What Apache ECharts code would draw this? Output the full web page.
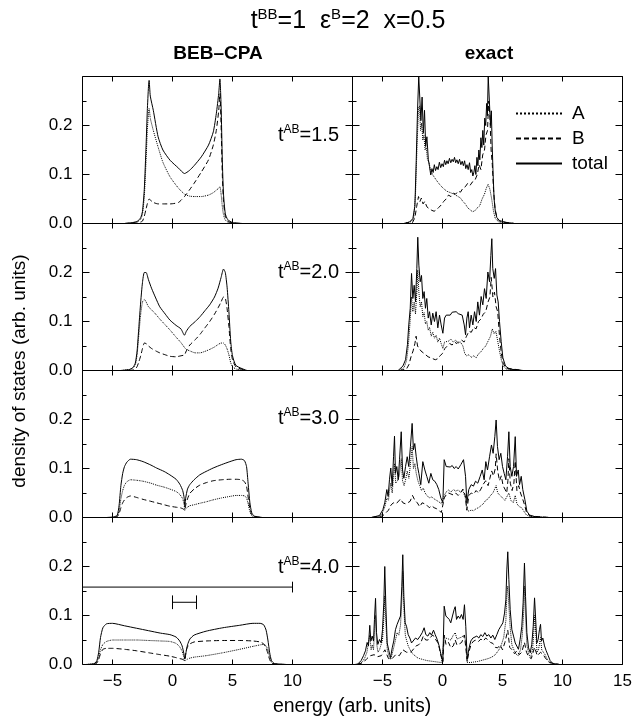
<!DOCTYPE html>
<html><head><meta charset="utf-8">
<script src="https://cdn.jsdelivr.net/npm/echarts@6/dist/echarts.min.js"></script>
<style>html,body{margin:0;padding:0;background:#fff}#c{width:636px;height:719px}</style>
</head><body><div id="c"></div>
<script>
// ---------- axis data ----------
const xMin = -7.5, xMax = 15;
const xTicks = [-5, 0, 5, 10, 15];
const xLabelsLeft = [-5, 0, 5, 10];
const xLabelsRight = [-5, 0, 5, 10, 15];
const yMax = 0.3;
const tABLabels = ['1.5', '2.0', '3.0', '4.0'];
const seriesNames = ['A', 'B', 'total'];

// ---------- BEB-CPA panels (energy grid + A, B, total) ----------
const cpa15E = [-4.0,-3.3,-2.9,-2.65,-2.5,-2.35,-2.2,-2.1,-2.0,-1.95,-1.85,-1.6,-1.2,-0.8,-0.2,0.5,1.0,1.4,1.8,2.4,3.0,3.4,3.65,3.85,3.95,4.05,4.15,4.25,4.4,4.6,5.0,5.8];
const cpa15T = [0,0.002,0.005,0.012,0.025,0.07,0.16,0.23,0.28,0.292,0.26,0.231,0.177,0.150,0.129,0.113,0.102,0.108,0.118,0.136,0.16,0.187,0.224,0.265,0.295,0.24,0.13,0.06,0.02,0.008,0.002,0];
const cpa15A = [0,0.001,0.004,0.009,0.02,0.055,0.13,0.19,0.225,0.235,0.215,0.19,0.156,0.125,0.095,0.072,0.06,0.056,0.055,0.055,0.058,0.063,0.068,0.072,0.075,0.06,0.035,0.018,0.007,0.003,0.001,0];
const cpa15B = [0,0.001,0.001,0.003,0.005,0.015,0.03,0.04,0.048,0.05,0.048,0.043,0.04,0.04,0.04,0.043,0.055,0.068,0.082,0.105,0.13,0.16,0.19,0.23,0.265,0.2,0.1,0.045,0.015,0.005,0.001,0];

const cpa20E = [-4.3,-3.6,-3.3,-3.1,-2.95,-2.8,-2.65,-2.5,-2.35,-2.2,-2.0,-1.75,-1.4,-1.06,-0.6,-0.22,0.3,0.7,1.0,1.15,1.44,1.9,2.3,2.7,3.1,3.5,3.8,4.05,4.25,4.4,4.55,4.7,4.85,5.0,5.3,6.2];
const cpa20T = [0,0.002,0.006,0.015,0.04,0.09,0.14,0.18,0.2,0.2,0.185,0.168,0.148,0.13,0.115,0.103,0.092,0.085,0.072,0.08,0.09,0.1,0.11,0.122,0.134,0.15,0.168,0.19,0.207,0.2,0.17,0.12,0.06,0.03,0.01,0];
const cpa20A = [0,0.002,0.005,0.012,0.032,0.075,0.115,0.14,0.145,0.14,0.13,0.124,0.115,0.105,0.093,0.083,0.068,0.057,0.047,0.043,0.04,0.036,0.036,0.039,0.043,0.048,0.053,0.056,0.056,0.052,0.044,0.032,0.016,0.008,0.003,0];
const cpa20B = [0,0,0.001,0.003,0.008,0.018,0.03,0.045,0.056,0.055,0.05,0.045,0.04,0.036,0.032,0.029,0.028,0.03,0.032,0.04,0.052,0.063,0.074,0.087,0.1,0.115,0.128,0.14,0.15,0.148,0.126,0.09,0.045,0.022,0.007,0];

const cpa30E = [-5.5,-4.9,-4.6,-4.45,-4.3,-4.15,-4.0,-3.8,-3.5,-3.0,-2.45,-1.8,-1.33,-0.7,-0.22,0.3,0.61,0.85,0.97,1.03,1.1,1.25,1.44,1.8,2.27,2.8,3.39,4.1,4.78,5.3,5.75,6.0,6.17,6.3,6.45,6.6,6.8,7.5];
const cpa30T = [0,0.001,0.005,0.025,0.065,0.09,0.104,0.113,0.119,0.118,0.114,0.107,0.101,0.094,0.087,0.078,0.068,0.055,0.04,0.022,0.04,0.058,0.067,0.077,0.087,0.094,0.101,0.108,0.114,0.118,0.119,0.116,0.104,0.07,0.03,0.01,0.003,0];
const cpa30A = [0,0.001,0.003,0.014,0.038,0.055,0.066,0.073,0.077,0.076,0.074,0.07,0.066,0.062,0.058,0.053,0.047,0.038,0.026,0.016,0.018,0.021,0.024,0.026,0.029,0.032,0.036,0.04,0.043,0.045,0.045,0.044,0.04,0.028,0.012,0.004,0.001,0];
const cpa30B = [0,0,0.002,0.008,0.02,0.03,0.036,0.041,0.044,0.041,0.037,0.033,0.03,0.026,0.023,0.021,0.02,0.018,0.016,0.014,0.025,0.038,0.049,0.058,0.066,0.071,0.075,0.077,0.078,0.078,0.077,0.073,0.064,0.042,0.018,0.006,0.002,0];

const cpa40E = [-7.2,-6.7,-6.45,-6.3,-6.15,-6.0,-5.8,-5.5,-5.0,-4.0,-3.0,-2.0,-1.0,-0.22,0.3,0.6,0.8,0.95,1.03,1.12,1.25,1.45,1.8,2.8,4.2,5.6,6.7,7.3,7.6,7.8,7.95,8.1,8.25,8.5,9.5];
const cpa40T = [0,0.001,0.003,0.008,0.025,0.055,0.075,0.083,0.084,0.079,0.074,0.069,0.064,0.061,0.056,0.048,0.038,0.022,0.011,0.024,0.04,0.052,0.06,0.068,0.075,0.08,0.084,0.084,0.081,0.07,0.05,0.024,0.008,0.002,0];
const cpa40A = [0,0.001,0.002,0.005,0.015,0.03,0.041,0.047,0.05,0.05,0.05,0.049,0.048,0.047,0.043,0.036,0.027,0.015,0.007,0.009,0.011,0.013,0.015,0.018,0.024,0.031,0.037,0.04,0.041,0.038,0.03,0.015,0.005,0.001,0];
const cpa40B = [0,0,0.001,0.003,0.01,0.022,0.031,0.033,0.033,0.031,0.028,0.024,0.02,0.017,0.014,0.012,0.011,0.009,0.008,0.026,0.036,0.042,0.046,0.048,0.049,0.049,0.048,0.046,0.042,0.034,0.022,0.01,0.003,0.001,0];

// reference bars drawn in the t^AB=4.0 BEB-CPA panel (energy, dos)
const longBarE = [-7.5, 10];
const longBarY = 0.158;
const longBarTickH = 0.011;
const scaleBarE = [0, 2];
const scaleBarY = 0.127;
const scaleBarTickH = 0.014;

// ---------- exact panels: [energy, dos] ----------
const ex15T = [[-3.2,0],[-2.75,0.003],[-2.47,0.01],[-2.3,0.035],[-2.19,0.129],[-2.08,0.231],[-1.98,0.3],[-1.88,0.3],[-1.8,0.21],[-1.7,0.258],[-1.6,0.184],[-1.5,0.231],[-1.4,0.157],[-1.3,0.177],[-1.18,0.13],[-1.08,0.116],[-0.98,0.099],[-0.88,0.112],[-0.78,0.104],[-0.68,0.12],[-0.58,0.108],[-0.47,0.116],[-0.37,0.11],[-0.26,0.125],[-0.15,0.114],[-0.04,0.122],[0.07,0.116],[0.17,0.129],[0.27,0.12],[0.37,0.128],[0.47,0.122],[0.58,0.133],[0.69,0.124],[0.8,0.131],[0.9,0.126],[1.0,0.135],[1.1,0.124],[1.2,0.13],[1.31,0.122],[1.42,0.131],[1.53,0.12],[1.64,0.127],[1.74,0.118],[1.84,0.128],[1.94,0.112],[2.04,0.12],[2.14,0.11],[2.25,0.124],[2.35,0.104],[2.44,0.11],[2.53,0.097],[2.62,0.105],[2.7,0.118],[2.78,0.1],[2.87,0.135],[2.95,0.118],[3.03,0.15],[3.11,0.13],[3.2,0.175],[3.28,0.155],[3.36,0.19],[3.44,0.16],[3.52,0.215],[3.6,0.2],[3.68,0.245],[3.74,0.22],[3.81,0.3],[3.92,0.3],[4.0,0.2],[4.07,0.23],[4.14,0.16],[4.22,0.1],[4.3,0.05],[4.4,0.025],[4.53,0.012],[4.75,0.006],[5.3,0.002],[6.0,0]];
const ex15A = [[-3.2,0],[-2.6,0.004],[-2.4,0.012],[-2.25,0.06],[-2.12,0.16],[-2.0,0.235],[-1.92,0.24],[-1.83,0.19],[-1.74,0.205],[-1.64,0.17],[-1.55,0.18],[-1.45,0.15],[-1.35,0.155],[-1.25,0.13],[-1.12,0.125],[-1.0,0.108],[-0.9,0.112],[-0.78,0.098],[-0.65,0.1],[-0.5,0.088],[-0.38,0.09],[-0.25,0.08],[-0.1,0.083],[0.05,0.072],[0.2,0.075],[0.35,0.066],[0.5,0.07],[0.65,0.063],[0.8,0.066],[0.95,0.06],[1.1,0.063],[1.3,0.055],[1.5,0.052],[1.7,0.045],[1.9,0.04],[2.1,0.032],[2.3,0.028],[2.5,0.024],[2.7,0.026],[2.9,0.032],[3.1,0.036],[3.3,0.05],[3.5,0.06],[3.65,0.072],[3.8,0.08],[3.95,0.07],[4.1,0.05],[4.25,0.025],[4.4,0.01],[4.7,0.003],[6.0,0]];
const ex15B = [[-3.2,0],[-2.5,0.002],[-2.3,0.012],[-2.15,0.035],[-2.0,0.055],[-1.88,0.045],[-1.76,0.052],[-1.62,0.04],[-1.48,0.045],[-1.3,0.034],[-1.1,0.03],[-0.9,0.027],[-0.7,0.025],[-0.5,0.028],[-0.3,0.033],[-0.1,0.038],[0.1,0.045],[0.3,0.05],[0.5,0.058],[0.7,0.055],[0.9,0.062],[1.1,0.06],[1.3,0.066],[1.5,0.064],[1.7,0.072],[1.9,0.075],[2.1,0.082],[2.3,0.078],[2.5,0.085],[2.7,0.088],[2.9,0.1],[3.05,0.12],[3.2,0.11],[3.35,0.14],[3.5,0.15],[3.62,0.18],[3.75,0.19],[3.85,0.25],[3.95,0.22],[4.05,0.15],[4.15,0.12],[4.25,0.07],[4.38,0.03],[4.55,0.01],[4.8,0.004],[6.0,0]];

const ex20T = [[-3.7,0],[-3.58,0.002],[-3.3,0.009],[-3.08,0.022],[-2.92,0.053],[-2.81,0.093],[-2.69,0.127],[-2.58,0.198],[-2.47,0.147],[-2.36,0.174],[-2.25,0.14],[-2.14,0.208],[-2.06,0.272],[-1.97,0.215],[-1.86,0.181],[-1.75,0.194],[-1.64,0.147],[-1.53,0.161],[-1.42,0.127],[-1.31,0.147],[-1.19,0.107],[-1.08,0.12],[-0.94,0.093],[-0.81,0.117],[-0.67,0.1],[-0.53,0.12],[-0.39,0.087],[-0.25,0.113],[-0.11,0.093],[0.03,0.076],[0.17,0.107],[0.31,0.113],[0.47,0.117],[0.64,0.113],[0.81,0.119],[0.97,0.115],[1.14,0.12],[1.31,0.116],[1.47,0.119],[1.64,0.113],[1.81,0.093],[1.92,0.073],[2.03,0.107],[2.14,0.12],[2.25,0.087],[2.39,0.113],[2.53,0.093],[2.67,0.12],[2.81,0.1],[2.94,0.14],[3.08,0.113],[3.22,0.151],[3.36,0.134],[3.5,0.167],[3.64,0.147],[3.78,0.201],[3.92,0.181],[4.03,0.235],[4.11,0.269],[4.19,0.208],[4.31,0.188],[4.42,0.208],[4.53,0.154],[4.64,0.14],[4.75,0.1],[4.89,0.059],[5.03,0.026],[5.25,0.009],[5.58,0.003],[6.7,0]];
const ex20A = [[-3.6,0],[-3.2,0.006],[-3.0,0.02],[-2.85,0.05],[-2.7,0.1],[-2.58,0.15],[-2.47,0.12],[-2.36,0.14],[-2.25,0.115],[-2.14,0.16],[-2.06,0.205],[-1.97,0.16],[-1.86,0.13],[-1.75,0.14],[-1.64,0.11],[-1.53,0.118],[-1.42,0.095],[-1.31,0.1],[-1.19,0.082],[-1.08,0.088],[-0.94,0.07],[-0.81,0.078],[-0.67,0.066],[-0.53,0.072],[-0.39,0.058],[-0.25,0.066],[-0.11,0.055],[0.03,0.045],[0.17,0.058],[0.31,0.062],[0.5,0.06],[0.7,0.064],[0.9,0.058],[1.1,0.062],[1.3,0.056],[1.5,0.058],[1.7,0.05],[1.85,0.035],[2.0,0.03],[2.2,0.032],[2.4,0.027],[2.6,0.03],[2.8,0.026],[3.0,0.034],[3.2,0.038],[3.4,0.045],[3.6,0.05],[3.8,0.06],[4.0,0.07],[4.15,0.085],[4.3,0.075],[4.45,0.08],[4.6,0.06],[4.75,0.04],[4.9,0.022],[5.05,0.01],[5.3,0.003],[6.7,0]];
const ex20B = [[-3.6,0],[-3.0,0.003],[-2.8,0.012],[-2.6,0.03],[-2.45,0.04],[-2.3,0.055],[-2.2,0.07],[-2.08,0.05],[-1.95,0.045],[-1.8,0.04],[-1.6,0.036],[-1.4,0.032],[-1.2,0.028],[-1.0,0.026],[-0.8,0.024],[-0.6,0.022],[-0.4,0.024],[-0.2,0.03],[0.0,0.035],[0.2,0.045],[0.4,0.05],[0.6,0.055],[0.8,0.052],[1.0,0.058],[1.2,0.055],[1.4,0.06],[1.6,0.062],[1.8,0.058],[2.0,0.07],[2.2,0.08],[2.4,0.078],[2.6,0.088],[2.8,0.085],[3.0,0.1],[3.2,0.105],[3.4,0.115],[3.6,0.12],[3.8,0.14],[3.95,0.15],[4.06,0.19],[4.2,0.15],[4.33,0.16],[4.47,0.13],[4.6,0.12],[4.75,0.07],[4.9,0.035],[5.05,0.015],[5.3,0.005],[6.7,0]];

const ex30T = [[-5.94,0],[-5.25,0.004],[-4.97,0.016],[-4.81,0.03],[-4.64,0.057],[-4.53,0.043],[-4.42,0.077],[-4.31,0.101],[-4.19,0.064],[-4.08,0.124],[-4.0,0.166],[-3.92,0.09],[-3.81,0.104],[-3.69,0.077],[-3.58,0.118],[-3.44,0.175],[-3.33,0.097],[-3.22,0.08],[-3.08,0.104],[-2.94,0.124],[-2.81,0.104],[-2.67,0.145],[-2.53,0.192],[-2.42,0.138],[-2.31,0.151],[-2.19,0.124],[-2.08,0.104],[-1.97,0.09],[-1.81,0.067],[-1.64,0.114],[-1.47,0.097],[-1.31,0.084],[-1.14,0.07],[-0.97,0.09],[-0.81,0.077],[-0.64,0.074],[-0.47,0.067],[-0.31,0.057],[-0.14,0.04],[0.03,0.03],[0.14,0.118],[0.31,0.104],[0.47,0.108],[0.64,0.103],[0.81,0.106],[0.97,0.1],[1.14,0.104],[1.31,0.099],[1.53,0.108],[1.75,0.118],[1.92,0.084],[2.03,0.03],[2.19,0.057],[2.39,0.067],[2.58,0.064],[2.75,0.074],[2.94,0.07],[3.14,0.084],[3.31,0.097],[3.47,0.077],[3.61,0.114],[3.75,0.097],[3.92,0.124],[4.08,0.148],[4.22,0.131],[4.36,0.165],[4.47,0.199],[4.58,0.145],[4.72,0.118],[4.86,0.131],[5.0,0.104],[5.14,0.09],[5.28,0.077],[5.42,0.124],[5.53,0.175],[5.64,0.104],[5.78,0.084],[5.92,0.104],[6.06,0.165],[6.17,0.084],[6.31,0.097],[6.42,0.067],[6.56,0.084],[6.69,0.057],[6.86,0.037],[7.03,0.013],[7.25,0.005],[7.81,0.001],[8.9,0]];
const ex30A = [[-5.9,0],[-5.2,0.003],[-4.97,0.012],[-4.8,0.022],[-4.64,0.04],[-4.5,0.035],[-4.42,0.055],[-4.31,0.07],[-4.19,0.05],[-4.08,0.085],[-4.0,0.11],[-3.9,0.07],[-3.75,0.075],[-3.6,0.085],[-3.44,0.12],[-3.33,0.075],[-3.2,0.065],[-3.05,0.08],[-2.94,0.095],[-2.8,0.08],[-2.67,0.11],[-2.53,0.145],[-2.42,0.1],[-2.3,0.11],[-2.19,0.09],[-2.05,0.075],[-1.9,0.065],[-1.75,0.055],[-1.6,0.06],[-1.45,0.05],[-1.3,0.045],[-1.1,0.04],[-0.9,0.042],[-0.7,0.038],[-0.5,0.035],[-0.3,0.032],[-0.1,0.028],[0.05,0.025],[0.15,0.045],[0.3,0.052],[0.5,0.056],[0.7,0.052],[0.9,0.057],[1.1,0.054],[1.3,0.056],[1.5,0.052],[1.7,0.055],[1.9,0.04],[2.03,0.015],[2.2,0.013],[2.4,0.015],[2.6,0.014],[2.8,0.018],[3.0,0.02],[3.2,0.024],[3.4,0.028],[3.6,0.035],[3.8,0.038],[4.0,0.045],[4.2,0.05],[4.47,0.065],[4.6,0.05],[4.8,0.045],[5.0,0.04],[5.2,0.035],[5.53,0.05],[5.7,0.035],[5.9,0.03],[6.06,0.045],[6.2,0.028],[6.4,0.022],[6.6,0.02],[6.8,0.012],[7.0,0.005],[7.3,0.002],[8.9,0]];
const ex30B = [[-5.9,0],[-5.0,0.003],[-4.7,0.01],[-4.5,0.015],[-4.3,0.025],[-4.1,0.03],[-3.9,0.028],[-3.7,0.032],[-3.5,0.038],[-3.3,0.03],[-3.1,0.028],[-2.9,0.03],[-2.7,0.033],[-2.5,0.045],[-2.3,0.035],[-2.1,0.03],[-1.9,0.022],[-1.7,0.03],[-1.5,0.028],[-1.3,0.025],[-1.1,0.02],[-0.9,0.024],[-0.7,0.02],[-0.5,0.018],[-0.3,0.015],[-0.1,0.01],[0.05,0.008],[0.15,0.04],[0.3,0.046],[0.5,0.05],[0.7,0.048],[0.9,0.046],[1.1,0.05],[1.3,0.045],[1.5,0.05],[1.7,0.058],[1.9,0.045],[2.03,0.015],[2.2,0.045],[2.4,0.05],[2.6,0.048],[2.8,0.055],[3.0,0.05],[3.2,0.058],[3.4,0.068],[3.6,0.075],[3.8,0.065],[3.95,0.08],[4.1,0.095],[4.25,0.085],[4.4,0.1],[4.47,0.13],[4.6,0.095],[4.75,0.075],[4.9,0.085],[5.05,0.065],[5.2,0.058],[5.35,0.05],[5.45,0.075],[5.53,0.12],[5.65,0.07],[5.8,0.055],[5.95,0.07],[6.06,0.115],[6.2,0.055],[6.35,0.065],[6.5,0.05],[6.65,0.04],[6.85,0.025],[7.0,0.01],[7.3,0.003],[8.9,0]];

const ex40T = [[-7.3,0],[-7.06,0.001],[-6.78,0.008],[-6.58,0.018],[-6.42,0.028],[-6.28,0.045],[-6.17,0.038],[-6.06,0.08],[-5.97,0.048],[-5.86,0.058],[-5.75,0.048],[-5.67,0.092],[-5.58,0.135],[-5.5,0.065],[-5.39,0.041],[-5.25,0.051],[-5.11,0.044],[-5.0,0.071],[-4.89,0.126],[-4.81,0.2],[-4.72,0.119],[-4.61,0.044],[-4.47,0.028],[-4.33,0.014],[-4.19,0.034],[-4.06,0.048],[-3.92,0.071],[-3.78,0.082],[-3.64,0.078],[-3.5,0.099],[-3.39,0.159],[-3.31,0.224],[-3.22,0.139],[-3.11,0.085],[-3.0,0.078],[-2.86,0.061],[-2.72,0.054],[-2.58,0.044],[-2.42,0.048],[-2.25,0.054],[-2.06,0.051],[-1.86,0.058],[-1.69,0.065],[-1.53,0.075],[-1.39,0.061],[-1.22,0.058],[-1.06,0.065],[-0.92,0.06],[-0.75,0.07],[-0.61,0.061],[-0.44,0.051],[-0.28,0.038],[-0.11,0.018],[0.03,0.008],[0.14,0.119],[0.28,0.099],[0.42,0.102],[0.56,0.092],[0.69,0.085],[0.83,0.099],[0.97,0.112],[1.06,0.118],[1.17,0.092],[1.31,0.099],[1.44,0.094],[1.58,0.102],[1.72,0.092],[1.83,0.122],[1.94,0.078],[2.06,0.011],[2.19,0.031],[2.36,0.048],[2.53,0.054],[2.69,0.051],[2.86,0.058],[3.03,0.054],[3.19,0.061],[3.36,0.057],[3.53,0.065],[3.69,0.058],[3.86,0.061],[4.03,0.054],[4.19,0.06],[4.36,0.051],[4.53,0.061],[4.69,0.071],[4.86,0.078],[5.03,0.085],[5.17,0.105],[5.28,0.132],[5.36,0.193],[5.44,0.23],[5.53,0.173],[5.64,0.112],[5.78,0.071],[5.92,0.058],[6.06,0.044],[6.19,0.048],[6.33,0.031],[6.47,0.051],[6.61,0.078],[6.72,0.126],[6.83,0.207],[6.92,0.139],[7.03,0.065],[7.17,0.034],[7.31,0.024],[7.44,0.041],[7.56,0.078],[7.67,0.136],[7.75,0.099],[7.86,0.044],[7.97,0.051],[8.08,0.071],[8.17,0.082],[8.25,0.048],[8.36,0.054],[8.5,0.038],[8.64,0.028],[8.81,0.018],[8.97,0.008],[9.19,0.002],[9.75,0]];
const ex40A = [[-7.1,0],[-6.7,0.005],[-6.5,0.012],[-6.3,0.025],[-6.17,0.025],[-6.06,0.06],[-5.95,0.03],[-5.85,0.04],[-5.75,0.03],[-5.66,0.07],[-5.58,0.1],[-5.5,0.045],[-5.38,0.025],[-5.25,0.03],[-5.1,0.028],[-5.0,0.05],[-4.89,0.095],[-4.81,0.14],[-4.72,0.085],[-4.6,0.03],[-4.47,0.018],[-4.33,0.01],[-4.19,0.022],[-4.06,0.035],[-3.92,0.05],[-3.78,0.065],[-3.64,0.06],[-3.5,0.08],[-3.39,0.13],[-3.31,0.19],[-3.22,0.115],[-3.1,0.06],[-3.0,0.05],[-2.86,0.038],[-2.7,0.03],[-2.5,0.022],[-2.3,0.018],[-2.1,0.014],[-1.9,0.012],[-1.6,0.01],[-1.3,0.008],[-1.0,0.007],[-0.7,0.006],[-0.4,0.005],[-0.1,0.004],[0.03,0.003],[0.14,0.055],[0.3,0.058],[0.5,0.052],[0.7,0.05],[0.9,0.06],[1.06,0.065],[1.2,0.052],[1.4,0.054],[1.6,0.056],[1.8,0.06],[1.95,0.045],[2.06,0.004],[2.3,0.004],[2.6,0.005],[2.9,0.006],[3.2,0.008],[3.5,0.01],[3.8,0.012],[4.1,0.015],[4.4,0.02],[4.7,0.03],[4.9,0.04],[5.1,0.055],[5.28,0.09],[5.36,0.14],[5.44,0.16],[5.53,0.12],[5.64,0.075],[5.78,0.04],[5.95,0.03],[6.1,0.022],[6.3,0.018],[6.5,0.03],[6.65,0.06],[6.75,0.1],[6.83,0.16],[6.92,0.1],[7.03,0.04],[7.2,0.02],[7.35,0.015],[7.5,0.03],[7.6,0.06],[7.67,0.1],[7.76,0.07],[7.88,0.025],[8.0,0.03],[8.1,0.045],[8.17,0.055],[8.27,0.03],[8.4,0.03],[8.55,0.02],[8.7,0.012],[8.9,0.005],[9.2,0.001],[9.75,0]];
const ex40B = [[-7.1,0],[-6.6,0.004],[-6.3,0.012],[-6.0,0.018],[-5.7,0.02],[-5.4,0.016],[-5.1,0.018],[-4.8,0.03],[-4.5,0.012],[-4.2,0.012],[-3.9,0.02],[-3.6,0.018],[-3.3,0.03],[-3.0,0.025],[-2.8,0.025],[-2.6,0.026],[-2.4,0.032],[-2.2,0.038],[-2.0,0.04],[-1.8,0.045],[-1.6,0.058],[-1.4,0.05],[-1.2,0.05],[-1.0,0.056],[-0.8,0.06],[-0.6,0.052],[-0.4,0.045],[-0.25,0.032],[-0.1,0.015],[0.03,0.005],[0.14,0.06],[0.3,0.04],[0.5,0.045],[0.7,0.034],[0.9,0.038],[1.06,0.05],[1.2,0.04],[1.4,0.042],[1.6,0.045],[1.83,0.06],[1.95,0.032],[2.06,0.006],[2.2,0.026],[2.4,0.042],[2.6,0.048],[2.8,0.05],[3.0,0.047],[3.2,0.052],[3.4,0.048],[3.6,0.054],[3.8,0.05],[4.0,0.045],[4.2,0.043],[4.4,0.035],[4.6,0.034],[4.8,0.04],[5.0,0.03],[5.2,0.045],[5.44,0.07],[5.6,0.035],[5.8,0.03],[6.0,0.022],[6.2,0.028],[6.4,0.02],[6.6,0.025],[6.83,0.045],[7.0,0.025],[7.2,0.015],[7.4,0.012],[7.67,0.035],[7.9,0.018],[8.17,0.025],[8.4,0.02],[8.6,0.012],[8.9,0.004],[9.75,0]];

// ---------- build ----------
const FONT = '"Liberation Sans", Arial, Helvetica, sans-serif';
const zip = (xs, ys) => xs.map((x, i) => [x, ys[i]]);
const cpaRows = [
  {A: zip(cpa15E, cpa15A), B: zip(cpa15E, cpa15B), T: zip(cpa15E, cpa15T)},
  {A: zip(cpa20E, cpa20A), B: zip(cpa20E, cpa20B), T: zip(cpa20E, cpa20T)},
  {A: zip(cpa30E, cpa30A), B: zip(cpa30E, cpa30B), T: zip(cpa30E, cpa30T)},
  {A: zip(cpa40E, cpa40A), B: zip(cpa40E, cpa40B), T: zip(cpa40E, cpa40T)}
];
const exRows = [
  {A: ex15A, B: ex15B, T: ex15T},
  {A: ex20A, B: ex20B, T: ex20T},
  {A: ex30A, B: ex30B, T: ex30T},
  {A: ex40A, B: ex40B, T: ex40T}
];

const panelTop = 76.5, panelH = 147, colLeft = [82.5, 352.5], panelW = 270;
const grids = [], xAxes = [], yAxes = [], series = [];
const fmtX = v => (v < 0 ? '\u2212' + Math.abs(v) : String(v));
const tickLine = {color: '#000', width: 1};

function addPanel(r, c, rows, smooth) {
  const gi = grids.length;
  grids.push({left: colLeft[c], top: panelTop + r * panelH, width: panelW, height: panelH,
    show: true, borderColor: '#000', borderWidth: 1, backgroundColor: 'transparent'});
  const baseX = {type: 'value', gridIndex: gi, min: xMin, max: xMax,
    axisLine: {show: false, onZero: false}, splitLine: {show: false}};
  const xi = xAxes.length;
  xAxes.push(Object.assign({}, baseX, {position: 'bottom',
    axisTick: {show: true, inside: true, length: 5, customValues: xTicks, lineStyle: tickLine},
    axisLabel: {show: r === 3, customValues: c ? xLabelsRight : xLabelsLeft, formatter: fmtX,
      color: '#000', fontSize: 17, fontFamily: FONT, margin: 8}}));
  xAxes.push(Object.assign({}, baseX, {position: 'top',
    axisTick: {show: true, inside: true, length: 5, customValues: xTicks, lineStyle: tickLine},
    axisLabel: {show: false}}));
  const baseY = {type: 'value', gridIndex: gi, min: 0, max: yMax, interval: 0.1,
    axisLine: {show: false, onZero: false}, splitLine: {show: false},
    axisTick: {show: true, inside: true, length: 7, lineStyle: tickLine},
    minorTick: {show: true, splitNumber: 2, length: 4, lineStyle: tickLine}};
  const yi = yAxes.length;
  yAxes.push(Object.assign({}, baseY, {position: 'left',
    axisLabel: {show: c === 0, formatter: v => (v > 0.25 ? '' : v.toFixed(1)),
      color: '#000', fontSize: 17, fontFamily: FONT, margin: 10}}));
  yAxes.push(Object.assign({}, baseY, {position: 'right', axisLabel: {show: false}}));
  const styles = {A: 'dotted', B: [5, 3], T: 'solid'};
  const names = {A: seriesNames[0], B: seriesNames[1], T: seriesNames[2]};
  ['A', 'B', 'T'].forEach(k => {
    series.push({type: 'line', name: names[k], xAxisIndex: xi, yAxisIndex: yi, data: rows[k],
      symbol: 'none', smooth: smooth, silent: true, animation: false,
      lineStyle: {color: '#000', width: 1, type: styles[k]}, itemStyle: {color: '#000'}});
  });
  return {xi, yi};
}

for (let r = 0; r < 4; r++) {
  const p = addPanel(r, 0, cpaRows[r], 0.2);
  if (r === 3) {
    const seg = d => ({type: 'line', xAxisIndex: p.xi, yAxisIndex: p.yi, data: d, symbol: 'none',
      silent: true, animation: false, lineStyle: {color: '#000', width: 1}});
    series.push(seg(longBarE.map(e => [e, longBarY])));
    series.push(seg([[longBarE[1], longBarY - longBarTickH], [longBarE[1], longBarY + longBarTickH]]));
    series.push(seg(scaleBarE.map(e => [e, scaleBarY])));
    scaleBarE.forEach(e => series.push(seg([[e, scaleBarY - scaleBarTickH], [e, scaleBarY + scaleBarTickH]])));
  }
  addPanel(r, 1, exRows[r], false);
}

const sup = {fontSize: 12, fontFamily: FONT, fill: '#000', verticalAlign: 'top'};
const txtN = fs => ({fontSize: fs, fontFamily: FONT, fill: '#000'});
const graphic = [
  {type: 'text', x: 348, y: 21, style: {text: '{n|t}{s|BB}{n|=1  \u03b5}{s|B}{n|=2  x=0.5}',
    rich: {n: Object.assign(txtN(25), {lineHeight: 28}), s: Object.assign({}, sup, {fontSize: 15})},
    align: 'center', verticalAlign: 'middle'}},
  {type: 'text', x: 218, y: 54, style: {text: 'BEB\u2013CPA', fontSize: 19, fontWeight: 'bold',
    fontFamily: FONT, fill: '#000', align: 'center', verticalAlign: 'middle'}},
  {type: 'text', x: 489, y: 54, style: {text: 'exact', fontSize: 19, fontWeight: 'bold',
    fontFamily: FONT, fill: '#000', align: 'center', verticalAlign: 'middle'}},
  {type: 'text', x: 352, y: 707, style: {text: 'energy (arb. units)', fontSize: 19.5, fontFamily: FONT,
    fill: '#000', align: 'center', verticalAlign: 'middle'}},
  {type: 'text', x: 20, y: 371, rotation: Math.PI / 2, style: {text: 'density of states (arb. units)',
    fontSize: 19, fontFamily: FONT, fill: '#000', align: 'center', verticalAlign: 'middle'}}
];
const annY = [135, 272, 418, 567];
tABLabels.forEach((lab, r) => {
  graphic.push({type: 'text', x: 339, y: annY[r], style: {text: '{n|t}{s|AB}{n|=' + lab + '}',
    rich: {n: Object.assign(txtN(20), {lineHeight: 23}), s: sup}, align: 'right', verticalAlign: 'middle'}});
});

const chart = echarts.init(document.getElementById('c'), null, {renderer: 'canvas'});
chart.setOption({
  backgroundColor: '#fff',
  animation: false,
  grid: grids, xAxis: xAxes, yAxis: yAxes, series: series,
  legend: {show: true, data: seriesNames, orient: 'vertical', left: 510, top: 99,
    itemWidth: 46, itemHeight: 14, itemGap: 6, selectedMode: false,
    itemStyle: {opacity: 0},
    textStyle: {fontSize: 19, fontFamily: FONT, color: '#000', padding: [0, 0, 0, 5]}},
  graphic: graphic
});
</script>
</body></html>
